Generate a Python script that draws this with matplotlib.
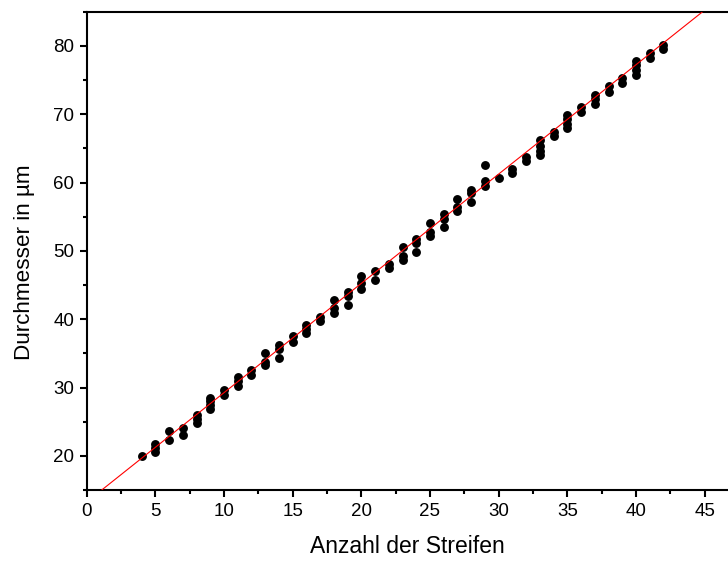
import numpy as np
import matplotlib
matplotlib.use('Agg')
import matplotlib.pyplot as plt
from matplotlib.ticker import MultipleLocator

plt.rcParams['font.family'] = ['Liberation Sans', 'DejaVu Sans']

# Messwerte: Anzahl der Streifen / Durchmesser in um
streifen = [4,
            5, 5, 5,
            6, 6,
            7, 7,
            8, 8, 8,
            9, 9, 9, 9,
            10, 10,
            11, 11, 11,
            12, 12,
            13, 13, 13,
            14, 14, 14,
            15, 15,
            16, 16, 16,
            17, 17,
            18, 18, 18,
            19, 19, 19,
            20, 20, 20,
            21, 21,
            22, 22,
            23, 23, 23,
            24, 24, 24,
            25, 25, 25,
            26, 26, 26,
            27, 27, 27,
            28, 28, 28,
            29, 29, 29,
            30,
            31, 31,
            32, 32,
            33, 33, 33, 33,
            34, 34,
            35, 35, 35, 35,
            36, 36,
            37, 37, 37,
            38, 38,
            39, 39,
            40, 40, 40, 40,
            41, 41,
            42, 42]

durchmesser = [20.0,
               20.5, 21.1, 21.8,
               22.4, 23.6,
               23.0, 24.1,
               24.8, 25.4, 26.0,
               26.8, 27.4, 28.0, 28.5,
               28.9, 29.6,
               30.3, 30.9, 31.5,
               31.9, 32.6,
               33.3, 33.8, 35.0,
               34.4, 35.6, 36.3,
               36.7, 37.5,
               38.0, 38.6, 39.2,
               39.7, 40.4,
               40.9, 41.6, 42.8,
               42.1, 43.4, 44.0,
               44.5, 45.3, 46.4,
               45.7, 47.0,
               47.5, 48.1,
               48.7, 49.2, 50.6,
               49.9, 51.1, 51.8,
               52.2, 52.8, 54.1,
               53.5, 54.7, 55.4,
               55.8, 56.5, 57.6,
               57.2, 58.5, 58.9,
               59.5, 60.2, 62.6,
               60.7,
               61.4, 62.0,
               63.1, 63.8,
               64.0, 64.6, 65.3, 66.2,
               66.8, 67.4,
               68.0, 68.6, 69.3, 69.9,
               70.4, 71.0,
               71.5, 72.2, 72.8,
               73.3, 74.1,
               74.6, 75.3,
               75.8, 76.5, 77.2, 77.8,
               78.2, 78.9,
               79.5, 80.1]

# lineare Anpassung
steigung = 1.6
achsenabschnitt = 13.25

fig = plt.figure(figsize=(7.28, 5.62), dpi=100)
ax = fig.add_axes([0.119, 0.128, 0.881, 0.851])

ax.plot(streifen, durchmesser, 'o', color='black', markersize=6.4,
        markeredgewidth=0, zorder=2)

xfit = np.array([0, 47])
ax.plot(xfit, steigung * xfit + achsenabschnitt, color='red', linewidth=0.8, zorder=3)

ax.set_xlim(0, 46.7)
ax.set_ylim(15, 85)
ax.xaxis.set_major_locator(MultipleLocator(5))
ax.xaxis.set_minor_locator(MultipleLocator(2.5))
ax.yaxis.set_major_locator(MultipleLocator(10))
ax.yaxis.set_minor_locator(MultipleLocator(5))
ax.set_yticks([20, 30, 40, 50, 60, 70, 80])

for s in ['left', 'bottom', 'top']:
    ax.spines[s].set_linewidth(1.5)
ax.spines['right'].set_visible(False)

ax.tick_params(which='major', direction='out', length=5, width=1.5, labelsize=13.5, pad=4)
ax.tick_params(which='minor', direction='out', length=3, width=1.5)

ax.set_xlabel('Anzahl der Streifen', fontsize=16.5, labelpad=11)
ax.set_ylabel('Durchmesser in µm', fontsize=16.2)
ax.yaxis.set_label_coords(-0.08, 0.477)

fig.savefig('out.png', dpi=100)
